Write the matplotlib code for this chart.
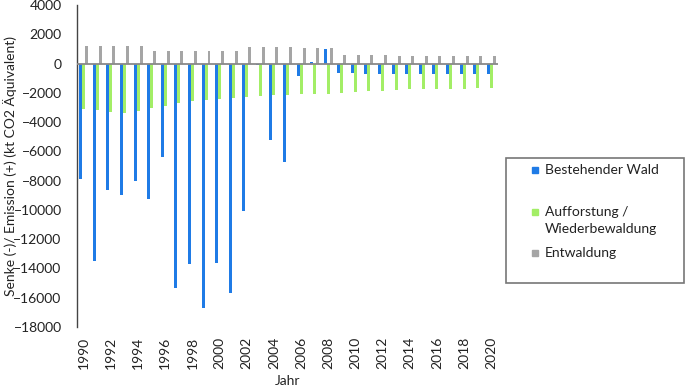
import matplotlib
matplotlib.use("Agg")
import matplotlib.pyplot as plt
from matplotlib.patches import Rectangle
import numpy as np

plt.rcParams['font.family'] = ['Lato', 'DejaVu Sans']

years = list(range(1990, 2021))

# Bestehender Wald (kt CO2 eq)
wald = [-7900, -13500, -8650, -9000, -8050, -9250, -6400, -15350, -13700, -16700,
        -13650, -15700, -10050, -100, -5200, -6700, -870, 100, 980, -640,
        -640, -690, -690, -740, -740, -740, -740, -740, -740, -740, -740]
# Aufforstung / Wiederbewaldung
auff = [-3080, -3200, -3300, -3380, -3240, -3030, -2900, -2700, -2560, -2470,
        -2420, -2350, -2280, -2210, -2170, -2120, -2100, -2100, -2050, -1990,
        -1940, -1900, -1850, -1800, -1760, -1760, -1760, -1760, -1710, -1700, -1700]
# Entwaldung
entw = [1200, 1200, 1200, 1220, 1220, 850, 850, 850, 850, 850,
        850, 850, 1100, 1100, 1100, 1100, 1080, 1080, 1080, 580,
        580, 580, 580, 520, 520, 520, 520, 520, 520, 520, 520]

series = ['Bestehender Wald', 'Aufforstung /\nWiederbewaldung', 'Entwaldung']
colors = ['#1f7be6', '#a3ee66', '#a5a5a5']

fig = plt.figure(figsize=(6.85, 3.86), dpi=100)
ax = fig.add_axes([0.1124, 0.1528, 0.6146, 0.8342])

x = np.arange(len(years))
w = 0.22
for i, (vals, c) in enumerate(zip([wald, auff, entw], colors)):
    ax.bar(x + (i - 1) * w, vals, width=w, color=c, zorder=2)

ax.axhline(0, color='#898989', lw=1.3, zorder=3)
ax.set_xlim(-0.5, len(years) - 0.5)
ax.set_ylim(-18000, 4000)
ax.set_yticks(np.arange(-18000, 4001, 2000))
ax.set_xticks(x[::2])
ax.set_xticklabels([str(y) for y in years[::2]], rotation=90)
ax.tick_params(axis='both', length=0, labelsize=10, colors='#222222')
ax.tick_params(axis='x', pad=7)
ax.tick_params(axis='y', pad=11)

for s in ['top', 'right', 'bottom']:
    ax.spines[s].set_visible(False)
ax.spines['left'].set_color('#444444')
ax.spines['left'].set_linewidth(1.0)

ax.set_xlabel('Jahr', fontsize=10, color='#222222', labelpad=4)
ax.set_ylabel('Senke (-)/ Emission (+) (kt CO2 Äquivalent)', fontsize=10, color='#222222')
ax.yaxis.set_label_coords(-0.142, 0.5)

# legend box drawn in figure pixels
W, H = 685, 386
fig.patches.append(Rectangle((506 / W, 1 - 283 / H), 178 / W, 125 / H,
                             transform=fig.transFigure, fill=False,
                             edgecolor='#777777', lw=1.2))
entry_y = [170, 212, 253]
for lab, c, yy in zip(series, colors, entry_y):
    fig.patches.append(Rectangle((532 / W, 1 - (yy + 3) / H), 6 / W, 6 / H,
                                 transform=fig.transFigure, color=c))
    fig.text(545 / W, 1 - (yy - 6) / H, lab, fontsize=10, color='#222222',
             va='top', ha='left', linespacing=1.5)

fig.savefig('out.png', dpi=100)
